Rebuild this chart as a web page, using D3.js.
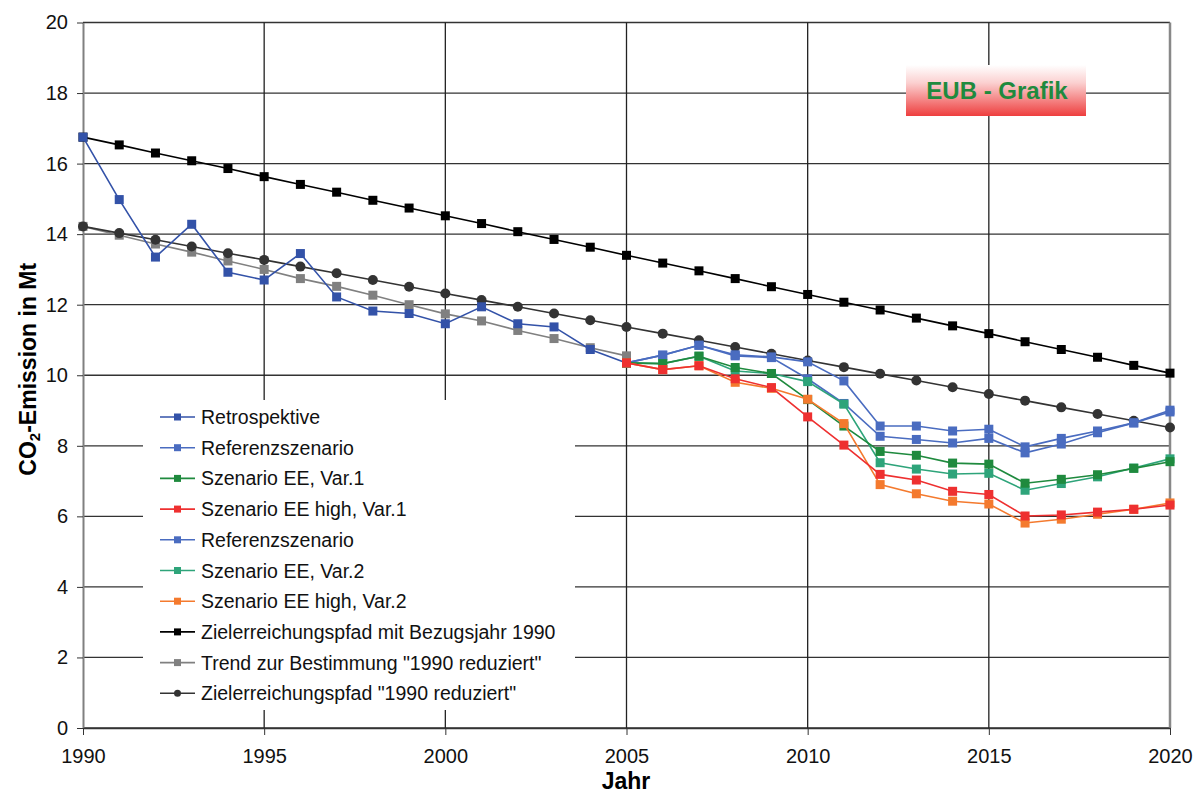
<!DOCTYPE html>
<html>
<head>
<meta charset="utf-8">
<script src="https://cdn.jsdelivr.net/npm/d3@7"></script>
<style>
  body { margin: 0; background: #fff; }
  svg { display: block; font-family: "Liberation Sans", Arial, sans-serif; }
</style>
</head>
<body>
<svg id="chart" width="1194" height="796"></svg>
<script>
// years for each series
var yearsAll = d3.range(1990, 2021);
var yearsRetro = d3.range(1990, 2006);
var yearsScen = d3.range(2005, 2021);

// values (Mt CO2)
var retrospektive = [16.75, 14.98, 13.35, 14.28, 12.92, 12.70, 13.45, 12.22, 11.82, 11.75, 11.46, 11.94, 11.46, 11.37, 10.73, 10.35];
var referenzA = [10.35, 10.57, 10.85, 10.58, 10.52, 10.38, 9.84, 8.56, 8.56, 8.42, 8.47, 7.97, 8.21, 8.42, 8.65, 9.01];
var eeVar1 = [10.35, 10.33, 10.54, 10.22, 10.05, 9.31, 8.56, 7.84, 7.73, 7.51, 7.48, 6.94, 7.05, 7.18, 7.36, 7.55];
var eeHighVar1 = [10.35, 10.16, 10.27, 9.90, 9.65, 8.82, 8.02, 7.19, 7.03, 6.71, 6.62, 6.01, 6.04, 6.12, 6.20, 6.32];
var referenzB = [10.35, 10.57, 10.85, 10.55, 10.50, 9.90, 9.20, 8.27, 8.18, 8.08, 8.21, 7.80, 8.05, 8.37, 8.65, 8.96];
var eeVar2 = [10.35, 10.33, 10.54, 10.12, 10.05, 9.82, 9.18, 7.52, 7.34, 7.20, 7.22, 6.74, 6.93, 7.12, 7.37, 7.63];
var eeHighVar2 = [10.35, 10.16, 10.27, 9.80, 9.63, 9.32, 8.63, 6.90, 6.64, 6.43, 6.35, 5.81, 5.92, 6.06, 6.20, 6.38];
var ziel1990 = [16.75, 16.53, 16.30, 16.08, 15.86, 15.63, 15.41, 15.19, 14.96, 14.74, 14.52, 14.30, 14.07, 13.85, 13.63, 13.40,
  13.18, 12.96, 12.74, 12.51, 12.29, 12.07, 11.85, 11.62, 11.40, 11.18, 10.95, 10.73, 10.51, 10.28, 10.06];
var trendReduziert = [14.22, 13.97, 13.72, 13.49, 13.24, 13.00, 12.74, 12.52, 12.27, 12.00, 11.74, 11.54, 11.27, 11.04, 10.78, 10.55];
var zielReduziert = [14.22, 14.03, 13.84, 13.65, 13.46, 13.27, 13.08, 12.89, 12.70, 12.51, 12.32, 12.13, 11.94, 11.75, 11.56, 11.37,
  11.18, 10.99, 10.80, 10.61, 10.42, 10.23, 10.04, 9.85, 9.66, 9.47, 9.28, 9.09, 8.90, 8.71, 8.52];

var seriesNames = ['Retrospektive', 'Referenzszenario', 'Szenario EE, Var.1', 'Szenario EE high, Var.1',
  'Referenzszenario', 'Szenario EE, Var.2', 'Szenario EE high, Var.2',
  'Zielerreichungspfad mit Bezugsjahr 1990', 'Trend zur Bestimmung "1990 reduziert"', 'Zielerreichungspfad "1990 reduziert"'];
var seriesColors = ['#3352a8', '#4a6cc0', '#1f8a3e', '#ee3030', '#4a6cc0', '#2ea47a', '#f47a2e', '#000000', '#808080', '#333333'];
var seriesShapes = ['square', 'square', 'square', 'square', 'square', 'square', 'square', 'square', 'square', 'circle'];
var seriesValues = [retrospektive, referenzA, eeVar1, eeHighVar1, referenzB, eeVar2, eeHighVar2, ziel1990, trendReduziert, zielReduziert];
var seriesYears = [yearsRetro, yearsScen, yearsScen, yearsScen, yearsScen, yearsScen, yearsScen, yearsAll, yearsRetro, yearsAll];
// draw order: lowest-priority first
var drawOrder = [7, 8, 9, 0, 4, 1, 5, 2, 6, 3];

var xTicks = [1990, 1995, 2000, 2005, 2010, 2015, 2020];
var yTicks = [0, 2, 4, 6, 8, 10, 12, 14, 16, 18, 20];

var margin = {left: 83, right: 24, top: 22.5, bottom: 68};
var width = 1194, height = 796;
var svg = d3.select('#chart');

var x = d3.scaleLinear().domain([1990, 2020]).range([margin.left, width - margin.right]);
var y = d3.scaleLinear().domain([0, 20]).range([height - margin.bottom, margin.top]);

// gridlines
svg.append('g').selectAll('line.hgrid').data(yTicks).enter()
  .append('line')
    .attr('x1', x(1990)).attr('x2', x(2020))
    .attr('y1', function(d) { return y(d); }).attr('y2', function(d) { return y(d); })
    .style('stroke', '#333').style('stroke-width', 1.3);
svg.append('g').selectAll('line.vgrid').data(xTicks.slice(1, -1)).enter()
  .append('line')
    .attr('x1', function(d) { return x(d); }).attr('x2', function(d) { return x(d); })
    .attr('y1', y(20)).attr('y2', y(0))
    .style('stroke', '#222').style('stroke-width', 1.3);

// EUB box with gradient
var defs = svg.append('defs');
var grad = defs.append('linearGradient').attr('id', 'eubGrad')
  .attr('x1', 0).attr('y1', 0).attr('x2', 0).attr('y2', 1);
grad.append('stop').attr('offset', '0%').attr('stop-color', '#ffffff');
grad.append('stop').attr('offset', '35%').attr('stop-color', '#fbd0d0');
grad.append('stop').attr('offset', '100%').attr('stop-color', '#ee3e3e');
svg.append('rect').attr('x', 906).attr('y', 65).attr('width', 180).attr('height', 51)
  .style('fill', 'url(#eubGrad)');
svg.append('text').attr('x', 997).attr('y', 99).attr('text-anchor', 'middle')
  .style('font-size', '24px').style('font-weight', 'bold').style('fill', '#1f8a3e')
  .text('EUB - Grafik');

// axes frame
svg.append('line').attr('x1', x(2020)).attr('x2', x(2020)).attr('y1', y(20)).attr('y2', y(0))
  .style('stroke', '#888').style('stroke-width', 2.5);

var yAxis = d3.axisLeft(y).tickValues(yTicks).tickSize(6).tickPadding(9).tickSizeOuter(0);
var gy = svg.append('g').attr('transform', 'translate(' + x(1990) + ',0)').call(yAxis);
gy.select('.domain').style('stroke', '#808080').style('stroke-width', 2);
gy.selectAll('.tick line').style('stroke', '#333');
gy.selectAll('.tick text').style('font-size', '20px').style('fill', '#111')
  .style('font-family', '"Liberation Sans", Arial, sans-serif');

var xAxis = d3.axisBottom(x).tickValues(xTicks).tickFormat(d3.format('d')).tickSize(7).tickPadding(14).tickSizeOuter(0);
var gx = svg.append('g').attr('transform', 'translate(0,' + y(0) + ')').call(xAxis);
gx.select('.domain').style('stroke', '#333').style('stroke-width', 1.5);
gx.selectAll('.tick line').style('stroke', '#333');
gx.selectAll('.tick text').style('font-size', '20px').style('fill', '#111')
  .style('font-family', '"Liberation Sans", Arial, sans-serif');

// axis titles
svg.append('text').attr('x', 626).attr('y', 789).attr('text-anchor', 'middle')
  .style('font-size', '23px').style('font-weight', 'bold').text('Jahr');
var yTitle = svg.append('text').attr('transform', 'translate(36,' + (y(10) - 6) + ') rotate(-90)')
  .attr('text-anchor', 'middle').style('font-size', '23px').style('font-weight', 'bold');
yTitle.append('tspan').text('CO');
yTitle.append('tspan').style('font-size', '15px').attr('dy', 4).text('2');
yTitle.append('tspan').attr('dy', -4).text('-Emission in Mt');

// series
var line = d3.line().x(function(d) { return x(d[0]); }).y(function(d) { return y(d[1]); });

function drawMarker(g, shape, color, cx, cy, size) {
  if (shape === 'circle') {
    g.append('circle').attr('cx', cx).attr('cy', cy).attr('r', size / 2 + 0.5).style('fill', color);
  } else {
    g.append('rect').attr('x', cx - size / 2).attr('y', cy - size / 2)
      .attr('width', size).attr('height', size).style('fill', color);
  }
}

drawOrder.forEach(function(i) {
  var pts = seriesYears[i].map(function(yr, k) { return [yr, seriesValues[i][k]]; });
  var g = svg.append('g').classed('series', true);
  g.append('path').datum(pts).attr('d', line)
    .style('fill', 'none').style('stroke', seriesColors[i]).style('stroke-width', 1.6);
  pts.forEach(function(p) {
    drawMarker(g, seriesShapes[i], seriesColors[i], x(p[0]), y(p[1]), 9);
  });
});

// legend
var legend = svg.append('g').attr('transform', 'translate(143,400)');
legend.append('rect').attr('width', 432).attr('height', 310).style('fill', '#fff');
seriesNames.forEach(function(name, i) {
  var ly = 17 + i * 30.7;
  var item = legend.append('g');
  item.append('line').attr('x1', 17).attr('x2', 52).attr('y1', ly).attr('y2', ly)
    .style('stroke', seriesColors[i]).style('stroke-width', 1.6);
  drawMarker(item, seriesShapes[i], seriesColors[i], 34.5, ly, seriesShapes[i] === 'circle' ? 6 : 7);
  item.append('text').attr('x', 58).attr('y', ly + 7).style('font-size', '19.5px').style('fill', '#111').text(name);
});
</script>
</body>
</html>
